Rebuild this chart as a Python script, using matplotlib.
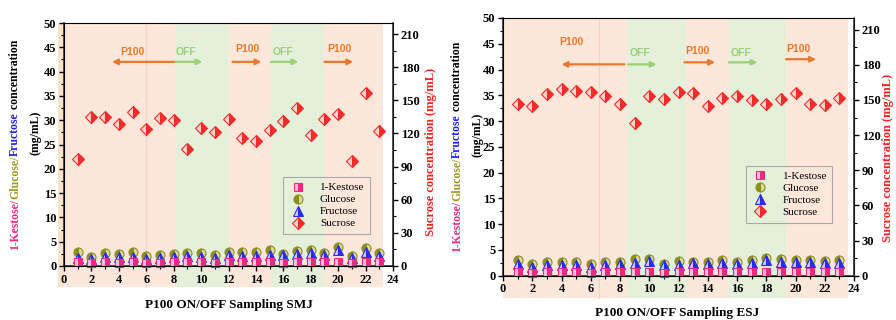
import matplotlib
matplotlib.use("Agg")
import matplotlib.pyplot as plt
from matplotlib.patches import Rectangle

plt.rcParams['font.family'] = 'Liberation Serif'
plt.rcParams['font.weight'] = 'bold'

sample = list(range(1, 24))

# SMJ run
smj_kestose = [0.8, 0.7, 0.8, 0.7, 0.8, 0.7, 0.7, 0.8, 0.8, 0.8, 0.7, 0.8, 0.8, 0.8, 0.8, 0.7, 0.8, 0.8, 0.8, 0.9, 0.7, 0.8, 0.8]
smj_glucose = [2.8, 1.9, 2.6, 2.4, 2.8, 2.0, 2.2, 2.4, 2.7, 2.6, 2.2, 2.9, 2.8, 2.8, 3.2, 2.4, 3.0, 3.2, 2.6, 3.9, 2.0, 3.7, 2.6]
smj_fructose = [1.7, 1.5, 1.9, 1.8, 1.8, 1.5, 1.7, 1.8, 2.1, 1.9, 1.7, 2.2, 2.0, 2.1, 2.2, 2.3, 2.5, 2.7, 2.2, 3.3, 1.6, 2.9, 2.1]
smj_sucrose = [97, 135, 135, 129, 139, 124, 134, 132, 106, 125, 121, 133, 116, 113, 123, 131, 143, 119, 133, 138, 95, 157, 122]

# ESJ run
esj_kestose = [0.7, 0.6, 0.7, 0.7, 0.7, 0.6, 0.7, 0.7, 0.7, 0.8, 0.6, 0.7, 0.7, 0.7, 0.8, 0.7, 0.7, 0.8, 0.8, 0.7, 0.7, 0.7, 0.7]
esj_glucose = [3.0, 2.2, 2.6, 2.7, 2.7, 2.2, 2.7, 2.6, 3.2, 3.3, 2.3, 2.85, 2.7, 2.6, 3.0, 2.6, 3.0, 3.4, 3.3, 3.0, 3.0, 2.85, 3.0]
esj_fructose = [2.3, 1.6, 2.0, 2.0, 2.0, 1.6, 2.0, 2.2, 2.5, 2.9, 2.0, 2.0, 2.4, 2.2, 2.5, 2.2, 2.5, 3.0, 2.6, 2.7, 2.6, 2.4, 2.5]
esj_sucrose = [147, 145, 155, 159, 158, 157, 153, 147, 130, 153, 151, 157, 156, 145, 152, 153, 150, 147, 151, 156, 147, 146, 152]

PEACH = '#fce7da'
GREEN = '#e5f0da'
ORANGE = '#e8792c'
LGREEN = '#9ccf78'

W, H = 896, 320
fig = plt.figure(figsize=(W / 100, H / 100), dpi=100)


def draw_panel(rect, kes, glu, fru, suc, phases, divider, arrows, leg_anchor):
    ax = fig.add_axes(rect)
    ax.set_xlim(0, 24)
    ax.set_ylim(0, 50)

    # ON/OFF phase shading, carried down over the tick labels
    for x0, x1, c in phases:
        ax.add_patch(Rectangle((x0, -4.3), x1 - x0, 54.3, facecolor=c,
                               edgecolor='none', zorder=0, clip_on=False))
    ax.plot([divider, divider], [-4.3, 50], color='#f3d3c2', lw=0.8,
            zorder=0.5, clip_on=False)

    hg, = ax.plot(sample, glu, 'o', ms=6.5, color='#8e8e1c', mfc='#8e8e1c',
                  mfcalt='#dcdc98', fillstyle='left', mew=0.8,
                  clip_on=False, zorder=3, label='Glucose')
    hf, = ax.plot(sample, fru, '^', ms=6.5, color='#2b2bef', mfc='#2b2bef',
                  mfcalt='#d2d2ff', fillstyle='right', mew=0.8,
                  clip_on=False, zorder=3, label='Fructose')
    hk, = ax.plot(sample, kes, 's', ms=5.5, color='#f0287f', mfc='#f0287f',
                  mfcalt='#ffc4dc', fillstyle='right', mew=0.8,
                  clip_on=False, zorder=3, label='1-Kestose')

    ax.set_xticks(range(0, 25, 2))
    ax.set_xticks(range(1, 24, 2), minor=True)
    ax.set_yticks(range(0, 51, 5))
    ax.set_yticks([v + 2.5 for v in range(0, 50, 5)], minor=True)
    ax.tick_params(labelsize=9, width=1, length=3.5, pad=2)
    ax.tick_params(which='minor', length=2, width=0.8)
    for s in ['left', 'bottom']:
        ax.spines[s].set_linewidth(1.1)
        ax.spines[s].set_color('#222222')
    ax.spines['top'].set_color('#888888')
    ax.spines['top'].set_linewidth(0.6)

    for text, tx, ty, x0, x1, ay, c in arrows:
        ax.text(tx, ty, text, color=c, fontsize=7.5, ha='center', va='center',
                family='Liberation Sans', weight='bold')
        ax.annotate('', xy=(x1, ay), xytext=(x0, ay),
                    arrowprops=dict(arrowstyle='-|>', color=c, lw=1.6,
                                    mutation_scale=8, shrinkA=0, shrinkB=0))

    ax2 = ax.twinx()
    ax2.set_ylim(0, 220)
    hs, = ax2.plot(sample, suc, 'D', ms=6.5, color='#f52a2a', mfc='#f52a2a',
                   mfcalt='#ffd6d0', fillstyle='right', mew=0.8,
                   clip_on=False, zorder=3, label='Sucrose')
    ax2.set_yticks(range(0, 211, 30))
    ax2.set_yticks(range(15, 220, 30), minor=True)
    ax2.tick_params(labelsize=9, width=1, length=3.5, pad=2)
    ax2.tick_params(which='minor', length=2, width=0.8)
    ax2.spines['right'].set_linewidth(1.1)
    ax2.spines['right'].set_color('#222222')

    leg = ax2.legend([hk, hg, hf, hs], ['1-Kestose', 'Glucose', 'Fructose', 'Sucrose'],
                     loc='upper left', bbox_to_anchor=leg_anchor, borderaxespad=0,
                     prop={'family': 'Liberation Serif', 'weight': 'normal', 'size': 8},
                     fancybox=False, handlelength=1.6, labelspacing=0.2,
                     handletextpad=1.2, borderpad=0.5)
    leg.get_frame().set_facecolor('none')
    leg.get_frame().set_edgecolor('#999999')
    leg.get_frame().set_linewidth(0.8)
    return ax


def stacked_label(x, yc, parts, size):
    # rotated label built from coloured pieces placed end to end
    texts = [fig.text(x / W, 0, s, color=c, rotation=90, ha='center', va='bottom',
                      fontsize=size, weight='bold') for s, c in parts]
    fig.canvas.draw()
    r = fig.canvas.get_renderer()
    hs = [t.get_window_extent(r).height for t in texts]
    y = (H - yc) - sum(hs) / 2
    for t, h in zip(texts, hs):
        t.set_position((x / W, y / H))
        y += h


def label_at(x, y, s, color='black', size=9, rot=0):
    fig.text(x / W, 1 - y / H, s, color=color, rotation=rot, ha='center',
             va='center', fontsize=size, weight='bold')


left_label = [('1-Kestose/', '#f0287f'), ('Glucose/', '#9a9a1a'),
              ('Fructose', '#2020ff'), (' concentration', 'black')]

draw_panel([64 / W, 1 - 266 / H, 329 / W, 243 / H],
           smj_kestose, smj_glucose, smj_fructose, smj_sucrose,
           [(-0.45, 0, '#fbe3c9'), (0, 8.15, PEACH), (8.15, 12.0, GREEN),
            (12.0, 15.1, PEACH), (15.1, 19.0, GREEN), (19.0, 23.25, PEACH)],
           6.0,
           [('P100', 5.0, 44.0, 8.15, 3.5, 42.0, ORANGE),
            ('OFF', 8.9, 44.0, 8.15, 10.1, 42.0, LGREEN),
            ('P100', 13.4, 44.6, 12.3, 14.4, 42.0, ORANGE),
            ('OFF', 16.0, 44.0, 15.1, 17.1, 42.0, LGREEN),
            ('P100', 20.1, 44.6, 19.0, 21.1, 42.0, ORANGE)],
           (0.666, 0.366))

draw_panel([503 / W, 1 - 275.7 / H, 351 / W, 257.7 / H],
           esj_kestose, esj_glucose, esj_fructose, esj_sucrose,
           [(0, 8.5, PEACH), (8.5, 12.5, GREEN), (12.5, 15.45, PEACH),
            (15.45, 19.35, GREEN), (19.35, 23.6, PEACH)],
           6.56,
           [('P100', 4.65, 45.3, 8.3, 4.0, 41.0, ORANGE),
            ('OFF', 9.4, 43.3, 8.55, 10.5, 41.0, LGREEN),
            ('P100', 13.3, 43.6, 12.4, 14.5, 41.4, ORANGE),
            ('OFF', 16.3, 43.3, 15.45, 17.4, 41.4, LGREEN),
            ('P100', 20.2, 44.0, 19.35, 21.4, 42.0, ORANGE)],
           (0.692, 0.426))

stacked_label(15, 145, left_label, 8.5)
label_at(35, 133, '(mg/mL)', size=8.5, rot=90)
stacked_label(457, 147, left_label, 8.5)
label_at(477, 135, '(mg/mL)', size=8.5, rot=90)

label_at(431, 152, 'Sucrose concentration (mg/mL)', color='#ff2020', size=9, rot=90)
label_at(888, 158, 'Sucrose concentration (mg/mL)', color='#ff2020', size=9, rot=90)

label_at(229, 305, 'P100 ON/OFF Sampling SMJ', size=9.5)
label_at(677, 313, 'P100 ON/OFF Sampling ESJ', size=9.5)

fig.savefig('out.png', dpi=100)
